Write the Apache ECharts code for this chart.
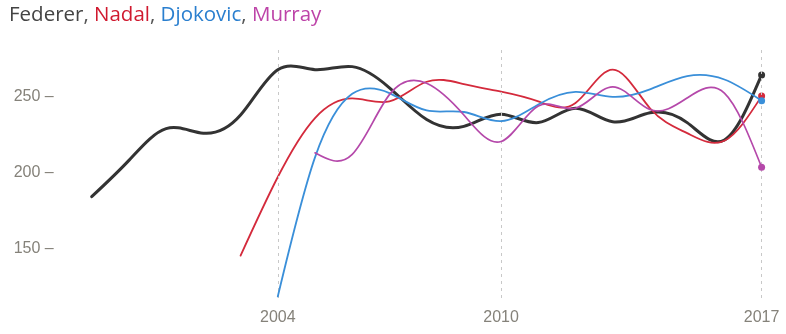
<!DOCTYPE html>
<html>
<head>
<meta charset="utf-8">
<script src="https://cdn.jsdelivr.net/npm/echarts@6/dist/echarts.min.js"></script>
<style>
  html, body { margin: 0; padding: 0; background: #fff; }
  #chart { width: 786px; height: 334px; }
</style>
</head>
<body>
<div id="chart"></div>
<script>
// ---- Data ----
const federerStart = 1999;
const federer = [184, 208, 229, 226, 238, 268, 268, 270, 256, 235, 230.5, 238.5, 233, 242.5, 233.5, 239.5, 233, 221.5, 264.5];
const nadalStart = 2003;
const nadal = [145, 197, 236, 249, 247, 260, 258.5, 253.5, 247, 246, 268, 242.5, 226, 221, 250.5];
const djokovicStart = 2004;
const djokovic = [118, 210, 252, 252.5, 241, 240, 234, 245, 253.3, 250, 255, 263.7, 261.5, 247.5];
const murrayStart = 2005;
const murray = [213, 212, 251.5, 259, 238, 220.5, 244, 242.5, 256.6, 241.6, 249.3, 252.5, 203.5];

const xTickYears = [2004, 2010, 2017];
const yTickValues = [150, 200, 250];
const playerNames = ['Federer', 'Nadal', 'Djokovic', 'Murray'];

// ---- Styling ----
const lineColors = ['#333333', '#d42a3c', '#3a8fd9', '#b548aa'];
const textColors = ['#444444', '#d0192f', '#2a7fcf', '#bd43a8'];
const lineWidths = [3, 1.8, 1.8, 1.7];

// natural cubic spline control points (pixel space), like d3.curveNatural
function controlPoints(x) {
  const n = x.length - 1;
  const a = new Array(n), b = new Array(n), r = new Array(n);
  let m;
  a[0] = 0; b[0] = 2; r[0] = x[0] + 2 * x[1];
  for (let i = 1; i < n - 1; ++i) { a[i] = 1; b[i] = 4; r[i] = 4 * x[i] + 2 * x[i + 1]; }
  a[n - 1] = 2; b[n - 1] = 7; r[n - 1] = 8 * x[n - 1] + x[n];
  for (let i = 1; i < n; ++i) { m = a[i] / b[i - 1]; b[i] -= m; r[i] -= m * r[i - 1]; }
  a[n - 1] = r[n - 1] / b[n - 1];
  for (let i = n - 2; i >= 0; --i) a[i] = (r[i] - a[i + 1]) / b[i];
  b[n - 1] = (x[n] + a[n - 1]) / 2;
  for (let i = 0; i < n - 1; ++i) b[i] = 2 * x[i + 1] - a[i + 1];
  return [a, b];
}

function makeRenderItem(k) {
  return function (params, api) {
    if (params.dataIndexInside !== 0) return null;
    const cnt = params.dataInsideLength;
    const xs = [], ys = [];
    for (let i = 0; i < cnt; i++) {
      const p = api.coord([api.value(0, i), api.value(1, i)]);
      xs.push(p[0]); ys.push(p[1]);
    }
    let d = 'M' + xs[0] + ',' + ys[0];
    if (cnt === 2) {
      d += 'L' + xs[1] + ',' + ys[1];
    } else if (cnt > 2) {
      const px = controlPoints(xs), py = controlPoints(ys);
      for (let i = 0; i < cnt - 1; i++) {
        d += 'C' + px[0][i] + ',' + py[0][i] + ',' + px[1][i] + ',' + py[1][i] + ',' + xs[i + 1] + ',' + ys[i + 1];
      }
    }
    return {
      type: 'group',
      children: [
        {
          type: 'path',
          shape: { pathData: d },
          style: { stroke: lineColors[k], lineWidth: lineWidths[k], fill: null, lineJoin: 'round', lineCap: 'round' }
        },
        {
          type: 'circle',
          shape: { cx: xs[cnt - 1], cy: ys[cnt - 1], r: 3.5 },
          style: { fill: lineColors[k] }
        }
      ]
    };
  };
}

const allSeries = [
  [federerStart, federer],
  [nadalStart, nadal],
  [djokovicStart, djokovic],
  [murrayStart, murray]
].map(([start, vals], k) => ({
  name: playerNames[k],
  type: 'custom',
  renderItem: makeRenderItem(k),
  encode: { x: 0, y: 1 },
  data: vals.map((v, i) => [start + i, v]),
  silent: true,
  z: 3 + k
}));

// dashed vertical guide lines at the labelled years
allSeries.unshift({
  type: 'line',
  data: [],
  silent: true,
  z: 1,
  markLine: {
    silent: true,
    symbol: 'none',
    label: { show: false },
    animation: false,
    lineStyle: { color: '#c8c8c8', width: 1, type: [3, 4] },
    data: xTickYears.map(y => ({ xAxis: y }))
  }
});

const baseFont = { fontSize: 20.5, fontFamily: 'Open Sans', fontWeight: 'normal' };
const rich = { s: Object.assign({ color: '#555' }, baseFont) };
playerNames.forEach((n, i) => {
  rich['p' + i] = Object.assign({ color: textColors[i] }, baseFont);
});
const titleText = playerNames.map((n, i) => '{p' + i + '|' + n + '}').join('{s|, }');

const axisFont = { color: '#85827a', fontSize: 16, fontFamily: 'Liberation Sans' };

const chart = echarts.init(document.getElementById('chart'), null, { renderer: 'canvas' });
chart.setOption({
  animation: false,
  backgroundColor: '#ffffff',
  title: {
    text: titleText,
    left: 4,
    top: 0,
    textStyle: Object.assign({ rich: rich }, baseFont)
  },
  grid: { left: 91.7, right: 24.4, top: 50, bottom: 36, containLabel: false },
  xAxis: {
    type: 'value',
    min: 1999,
    max: 2017,
    axisLine: { show: false },
    axisTick: { show: false },
    splitLine: { show: false },
    axisLabel: Object.assign({
      customValues: xTickYears,
      margin: 12,
      formatter: v => String(v)
    }, axisFont)
  },
  yAxis: {
    type: 'value',
    min: 117,
    max: 281,
    axisLine: { show: false },
    axisTick: { show: false },
    splitLine: { show: false },
    axisLabel: Object.assign({
      customValues: yTickValues,
      margin: 38,
      formatter: v => v + ' \u2013'
    }, axisFont)
  },
  series: allSeries
});
</script>
</body>
</html>
